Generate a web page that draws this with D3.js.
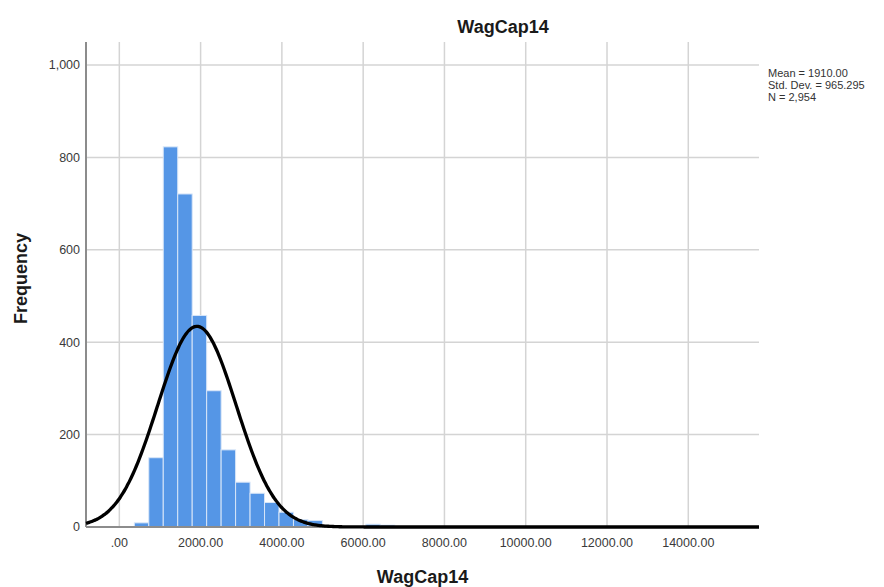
<!DOCTYPE html>
<html>
<head>
<meta charset="utf-8">
<script src="https://cdn.jsdelivr.net/npm/d3@7"></script>
<style>
  html, body { margin: 0; padding: 0; background: #fff; }
  svg { display: block; font-family: "Liberation Sans", Arial, sans-serif; }
</style>
</head>
<body>
<svg id="chart" width="884" height="587"></svg>
<script>
// ---- data ----
const title = "WagCap14";
const xLabel = "WagCap14";
const yLabel = "Frequency";
const binStart = 369;
const binWidth = 356;
const binCounts = [9, 150, 823, 721, 458, 295, 167, 97, 73, 53, 32, 16, 14, 0, 0, 0, 6, 4];
const xTickValues = [0, 2000, 4000, 6000, 8000, 10000, 12000, 14000];
const xTickLabels = [".00", "2000.00", "4000.00", "6000.00", "8000.00", "10000.00", "12000.00", "14000.00"];
const yTickValues = [0, 200, 400, 600, 800, 1000];
const yTickLabels = ["0", "200", "400", "600", "800", "1,000"];
const statMean = 1910.00;
const statSD = 965.295;
const statN = 2954;
const statLines = ["Mean = 1910.00", "Std. Dev. = 965.295", "N = 2,954"];

// ---- layout ----
const L = 86, R = 759, T = 42, B = 527;
const svg = d3.select("#chart");
const x = d3.scaleLinear().domain([-820, 15740]).range([L, R]);
const y = d3.scaleLinear().domain([0, 1050]).range([B, T]);

// gridlines
const g = svg.append("g");
g.selectAll("line.hg").data(yTickValues.filter(v => v > 0)).enter().append("line")
  .attr("x1", L).attr("x2", R).attr("y1", d => y(d)).attr("y2", d => y(d))
  .attr("stroke", "#d4d4d4").attr("stroke-width", 1.5);
g.selectAll("line.vg").data(xTickValues).enter().append("line")
  .attr("x1", d => x(d)).attr("x2", d => x(d)).attr("y1", T).attr("y2", B)
  .attr("stroke", "#d4d4d4").attr("stroke-width", 1.5);

// bars
const bins = binCounts.map((c, i) => ({ x0: binStart + i * binWidth, x1: binStart + (i + 1) * binWidth, c }));
svg.append("g").selectAll("rect").data(bins.filter(b => b.c > 0)).enter().append("rect")
  .attr("x", d => x(d.x0)).attr("width", d => x(d.x1) - x(d.x0))
  .attr("y", d => y(d.c)).attr("height", d => y(0) - y(d.c))
  .attr("fill", "#5596e6").attr("stroke", "#d8e6f8").attr("stroke-width", 1);

// axes lines
svg.append("line").attr("x1", L).attr("x2", L).attr("y1", T).attr("y2", B)
  .attr("stroke", "#8c8c8c").attr("stroke-width", 2);
svg.append("line").attr("x1", L).attr("x2", R).attr("y1", B).attr("y2", B)
  .attr("stroke", "#8c8c8c").attr("stroke-width", 2);

// normal curve from stats
const curvePts = d3.range(x.domain()[0], x.domain()[1] + 1, 40).map(v => {
  const z = (v - statMean) / statSD;
  return [v, statN * binWidth / (statSD * Math.sqrt(2 * Math.PI)) * Math.exp(-0.5 * z * z)];
});
svg.append("path").datum(curvePts)
  .attr("d", d3.line().x(d => x(d[0])).y(d => y(d[1])).curve(d3.curveBasis))
  .attr("fill", "none").attr("stroke", "#000").attr("stroke-width", 3.3);

// tick labels
svg.append("g").selectAll("text").data(yTickValues).enter().append("text")
  .attr("x", L - 6).attr("y", d => y(d)).attr("dy", "0.35em")
  .attr("text-anchor", "end").attr("font-size", 12.5).attr("fill", "#3a3a3a")
  .text((d, i) => yTickLabels[i]);
svg.append("g").selectAll("text").data(xTickValues).enter().append("text")
  .attr("x", d => x(d)).attr("y", 547)
  .attr("text-anchor", "middle").attr("font-size", 12.5).attr("fill", "#3a3a3a")
  .text((d, i) => xTickLabels[i]);

// titles
svg.append("text").attr("x", 503).attr("y", 33).attr("text-anchor", "middle")
  .attr("font-size", 18).attr("font-weight", "bold").attr("fill", "#1a1a1a").text(title);
svg.append("text").attr("x", (L + R) / 2).attr("y", 583).attr("text-anchor", "middle")
  .attr("font-size", 18).attr("font-weight", "bold").attr("fill", "#1a1a1a").text(xLabel);
svg.append("text").attr("transform", `translate(27,${(T + B) / 2 - 6}) rotate(-90)`)
  .attr("text-anchor", "middle")
  .attr("font-size", 18).attr("font-weight", "bold").attr("fill", "#1a1a1a").text(yLabel);

// stats
svg.append("g").selectAll("text").data(statLines).enter().append("text")
  .attr("x", 768).attr("y", (d, i) => 77 + i * 12)
  .attr("font-size", 11).attr("fill", "#333").text(d => d);
</script>
</body>
</html>
